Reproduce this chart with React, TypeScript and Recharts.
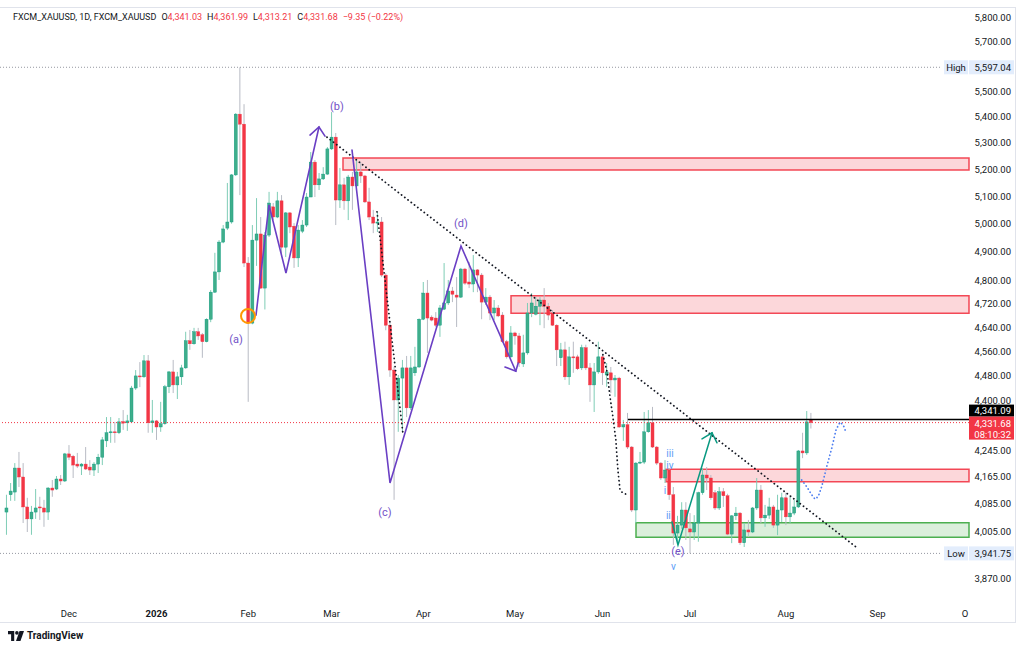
import React from 'react';
import {
  ComposedChart,
  Bar,
  Line,
  XAxis,
  YAxis,
  ReferenceArea,
  ReferenceLine,
  ReferenceDot,
} from 'recharts';

// daily candles, [open, high, low, close]
const novCandles = [
  [4061, 4112, 3995, 4073], [4112, 4147, 4094, 4123], [4120, 4207, 4094, 4192],
  [4192, 4241, 4135, 4165], [4165, 4207, 4029, 4076], [4076, 4103, 4003, 4041],
  [4041, 4079, 3995, 4061], [4061, 4129, 4041, 4073], [4076, 4106, 4038, 4073],
  [4073, 4097, 4018, 4061], [4061, 4135, 4038, 4132], [4132, 4156, 4106, 4126],
  [4129, 4168, 4126, 4159], [4159, 4171, 4141, 4153], [4153, 4238, 4150, 4235],
];
const decCandles = [
  [4235, 4262, 4216, 4225], [4228, 4232, 4162, 4201], [4204, 4238, 4192, 4198],
  [4198, 4207, 4171, 4204], [4204, 4256, 4186, 4189], [4195, 4216, 4171, 4186],
  [4186, 4210, 4168, 4204], [4204, 4235, 4177, 4225], [4225, 4287, 4201, 4278],
  [4275, 4349, 4256, 4300], [4300, 4349, 4269, 4303], [4303, 4334, 4269, 4300],
  [4300, 4346, 4296, 4334], [4335, 4371, 4309, 4330], [4331, 4356, 4306, 4337],
  [4334, 4448, 4331, 4441], [4441, 4499, 4435, 4480], [4480, 4525, 4444, 4477],
  [4477, 4548, 4474, 4529], [4529, 4548, 4300, 4331], [4331, 4403, 4300, 4337],
  [4337, 4340, 4278, 4318],
];
const janCandles = [
  [4318, 4397, 4303, 4328], [4328, 4451, 4325, 4445], [4445, 4496, 4425, 4493],
  [4493, 4532, 4425, 4451], [4451, 4493, 4406, 4477], [4477, 4516, 4451, 4506],
  [4506, 4625, 4503, 4595], [4595, 4631, 4565, 4585], [4585, 4638, 4582, 4625],
  [4625, 4638, 4598, 4611], [4615, 4621, 4539, 4592], [4592, 4670, 4590, 4667],
  [4667, 4766, 4657, 4759], [4759, 4896, 4756, 4829], [4829, 4941, 4801, 4934],
  [4934, 4995, 4930, 4981], [4984, 5149, 4977, 5006], [5006, 5182, 5000, 5179],
  [5179, 5415, 5175, 5411], [5411, 5597.04, 5104, 5372], [5372, 5450, 4846, 4860],
];
const febCandles = [
  [4860, 4881, 4397, 4654], [4654, 4995, 4650, 4941], [4941, 5093, 4850, 4963],
  [4963, 5024, 4770, 4773], [4773, 4970, 4700, 4959], [4959, 5116, 4952, 5075],
  [5061, 5075, 5013, 5024], [5024, 5116, 5020, 5083], [5083, 5104, 4881, 4916],
  [4916, 5042, 4881, 5039], [5039, 5042, 4966, 4988], [4991, 5002, 4843, 4878],
  [4878, 4995, 4846, 4977], [4973, 5013, 4966, 4995], [4995, 5112, 4988, 5097],
  [5097, 5265, 5097, 5227], [5227, 5235, 5097, 5142], [5142, 5186, 5123, 5164],
  [5164, 5208, 5160, 5182], [5182, 5284, 5179, 5277],
];
const marCandles = [
  [5277, 5419, 5273, 5322], [5322, 5338, 4995, 5086], [5086, 5205, 5057, 5142],
  [5142, 5168, 5050, 5083], [5083, 5179, 5013, 5171], [5171, 5190, 5050, 5138],
  [5138, 5235, 5134, 5190], [5190, 5227, 5149, 5175], [5175, 5179, 5075, 5079],
  [5079, 5131, 5013, 5024], [5024, 5050, 4966, 5002], [5002, 5042, 4970, 5006],
  [5006, 5024, 4811, 4818], [4818, 4825, 4630, 4647], [4647, 4654, 4477, 4499],
  [4499, 4510, 4097, 4403], [4403, 4483, 4303, 4473], [4473, 4532, 4303, 4506],
  [4506, 4545, 4349, 4378], [4378, 4545, 4371, 4506], [4490, 4575, 4480, 4509],
  [4509, 4670, 4506, 4667],
];
const aprCandles = [
  [4667, 4794, 4664, 4756], [4756, 4801, 4555, 4671], [4674, 4680, 4660, 4664],
  [4671, 4691, 4641, 4647], [4647, 4715, 4608, 4705], [4701, 4860, 4698, 4722],
  [4722, 4801, 4715, 4763], [4763, 4777, 4725, 4752], [4749, 4811, 4641, 4742],
  [4742, 4843, 4739, 4839], [4839, 4843, 4784, 4790], [4794, 4864, 4773, 4787],
  [4787, 4888, 4759, 4836], [4836, 4839, 4759, 4818], [4818, 4825, 4667, 4725],
  [4725, 4773, 4715, 4742], [4742, 4749, 4664, 4688], [4688, 4732, 4664, 4705],
  [4705, 4715, 4674, 4678], [4681, 4691, 4588, 4592], [4592, 4598, 4536, 4542],
  [4542, 4644, 4539, 4621],
];
const mayCandles = [
  [4621, 4625, 4582, 4611], [4611, 4621, 4509, 4522], [4519, 4615, 4509, 4555],
  [4555, 4722, 4549, 4688], [4688, 4756, 4674, 4722], [4684, 4742, 4680, 4711],
  [4711, 4742, 4647, 4732], [4732, 4773, 4637, 4711], [4711, 4722, 4664, 4681],
  [4688, 4698, 4644, 4647], [4647, 4650, 4512, 4565], [4539, 4588, 4512, 4565],
  [4565, 4592, 4467, 4477], [4477, 4575, 4451, 4542], [4542, 4592, 4490, 4539],
  [4542, 4549, 4499, 4503], [4506, 4582, 4499, 4572], [4572, 4582, 4499, 4506],
  [4506, 4522, 4397, 4451], [4451, 4522, 4365, 4493], [4493, 4592, 4487, 4542],
];
const junCandles = [
  [4542, 4549, 4451, 4490], [4483, 4522, 4445, 4493], [4490, 4509, 4425, 4467],
  [4467, 4483, 4413, 4473], [4473, 4477, 4315, 4318], [4318, 4340, 4275, 4325],
  [4325, 4362, 4250, 4256], [4256, 4259, 4061, 4067], [4067, 4210, 4029, 4207],
  [4207, 4241, 4204, 4210], [4210, 4365, 4204, 4303], [4303, 4371, 4300, 4331],
  [4331, 4381, 4253, 4256], [4256, 4259, 4201, 4207], [4207, 4210, 4156, 4162],
  [4162, 4216, 4147, 4186], [4186, 4192, 4097, 4112], [4112, 4135, 3966, 4000],
  [4000, 4050, 3975, 4023], [4023, 4090, 4012, 4067], [4067, 4090, 3980, 4015],
  [4012, 4058, 3941.75, 4003],
];
const julCandles = [
  [4003, 4052, 3980, 4029], [4029, 4121, 3975, 4118], [4118, 4192, 4112, 4171],
  [4171, 4195, 4126, 4162], [4162, 4171, 4097, 4103], [4118, 4126, 4067, 4073],
  [4073, 4135, 4067, 4121], [4121, 4132, 4076, 4109], [4109, 4115, 3994, 3997],
  [3997, 4052, 3971, 4050], [4050, 4076, 4038, 4058], [4058, 4061, 3966, 3972],
  [3972, 4029, 3960, 4009], [4009, 4038, 3989, 4003], [4003, 4076, 4000, 4073],
  [4073, 4162, 4067, 4126], [4126, 4141, 4029, 4044], [4044, 4082, 4018, 4052],
  [4052, 4103, 4041, 4076], [4076, 4082, 4015, 4023], [4023, 4112, 3994, 4067],
  [4067, 4118, 4032, 4103], [4103, 4118, 4023, 4047],
];
const augCandles = [
  [4047, 4106, 4029, 4058], [4058, 4097, 4052, 4076], [4076, 4247, 4073, 4244],
  [4244, 4300, 4222, 4238], [4238, 4368, 4232, 4334], [4341.03, 4361.99, 4313.21, 4331.68],
];

const FIRST_BAR = -15;
const candles = [
  ...novCandles, ...decCandles, ...janCandles, ...febCandles, ...marCandles,
  ...aprCandles, ...mayCandles, ...junCandles, ...julCandles, ...augCandles,
].map(([o, h, l, c], k) => ({ i: FIRST_BAR + k, o, h, l, c, range: [l, h] }));

// axes
const monthTicks = [0, 21, 43, 63, 85, 107, 128, 149, 172, 194, 215];
const monthLabels = ['Dec', '2026', 'Feb', 'Mar', 'Apr', 'May', 'Jun', 'Jul', 'Aug', 'Sep', 'O'];
const priceTicks = [5800, 5700, 5500, 5400, 5300, 5200, 5100, 5000, 4900, 4800, 4720, 4640, 4560, 4480, 4400, 4245, 4165, 4085, 4005, 3870];
const X_DOMAIN = [-16.55, 215.93];
const Y_DOMAIN = [3819.7, 5841.5];

const HIGH = 5597.04;
const LOW = 3941.75;
const LAST = 4331.68;
const LEVEL = 4341.09;

// drawings (bar index, price)
const waveToB = [{ i: 44.87, p: 4681 }, { i: 47.98, p: 5068 }, { i: 52.06, p: 4825 }, { i: 59.98, p: 5361 }];
const arrowB = [{ i: 57.82, p: 5330 }, { i: 59.98, p: 5361 }, { i: 61.42, p: 5326 }];
const waveToD = [{ i: 67.9, p: 5273 }, { i: 77.02, p: 4147 }, { i: 94.05, p: 4920 }, { i: 107.2, p: 4495 }];
const arrowD = [{ i: 104.6, p: 4509 }, { i: 107.2, p: 4495 }, { i: 107.77, p: 4522 }];
const trendLong = [{ i: 61.9, p: 5322 }, { i: 189.06, p: 3958 }];
const trendShort = [{ i: 73.9, p: 5043 }, { i: 80.13, p: 4297 }];
const trendCurve = [
  { i: 128.1, p: 4549 }, { i: 129.1, p: 4493 }, { i: 129.8, p: 4413 }, { i: 130.5, p: 4349 },
  { i: 131.2, p: 4278 }, { i: 131.7, p: 4186 }, { i: 132.2, p: 4126 }, { i: 132.9, p: 4117 },
  { i: 134.1, p: 4112 },
];
const impulse = [{ i: 144.67, p: 4032 }, { i: 146.11, p: 3966 }, { i: 154.27, p: 4300 }];
const impulseArrow = [{ i: 151.87, p: 4281 }, { i: 154.27, p: 4300 }, { i: 155.47, p: 4269 }];
const projection = [
  { i: 175.79, p: 4156 }, { i: 176.99, p: 4136 }, { i: 178.19, p: 4112 }, { i: 178.98, p: 4099 },
  { i: 179.77, p: 4107 }, { i: 180.59, p: 4136 }, { i: 181.79, p: 4196 }, { i: 182.99, p: 4252 },
  { i: 184.02, p: 4309 }, { i: 184.98, p: 4333 }, { i: 185.77, p: 4324 }, { i: 186.35, p: 4304 },
];

const supplyZones = [
  { from: 65.74, top: 5242.6, bottom: 5197 },
  { from: 106.05, top: 4747, bottom: 4687 },
  { from: 143.23, top: 4188, bottom: 4151 },
];
const demandZone = { from: 136.04, top: 4030, bottom: 3988 };

const waveLabels = [
  { i: 40.07, p: 4601, t: '(a)' },
  { i: 64.3, p: 5444, t: '(b)' },
  { i: 75.82, p: 4061, t: '(c)' },
  { i: 94.05, p: 5002, t: '(d)' },
  { i: 146.1, p: 3949, t: '(e)' },
];
const subLabels = [
  { i: 144.19, p: 4237, t: 'iii' },
  { i: 144.19, p: 4201, t: 'iv' },
  { i: 143.0, p: 4126, t: 'i' },
  { i: 143.79, p: 4052, t: 'ii' },
  { i: 145.0, p: 3904, t: 'v' },
];

const UP = '#089981';
const DOWN = '#f23645';
const UP_WICK = '#7fcdb6';
const DOWN_WICK = '#b8bbc4';
const WAVE = '#6a3fc4';
const TEXT = '#131722';

const fmt = (v: number) => v.toLocaleString('en-US', { minimumFractionDigits: 2, maximumFractionDigits: 2 });

function Candle(props: any) {
  const { x, y, width, height, payload } = props;
  if (!payload) return null;
  const { o, h, l, c } = payload;
  const top = Math.min(y, y + height);
  const span = Math.abs(height);
  const lh = Math.log(h);
  const ll = Math.log(l);
  const at = (v: number) => top + (span * (lh - Math.log(v))) / (lh - ll);
  const cx = x + width / 2;
  const up = c >= o;
  const bTop = at(Math.max(o, c));
  const bBot = at(Math.min(o, c));
  return (
    <g>
      <line x1={cx} x2={cx} y1={top} y2={top + span} stroke={up ? UP_WICK : DOWN_WICK} strokeWidth={1} />
      <rect x={cx - 1.5} y={bTop} width={3} height={Math.max(bBot - bTop, 1)} fill={up ? '#3fae8a' : DOWN} stroke={up ? UP : DOWN} strokeWidth={0.4} />
    </g>
  );
}

function XTick({ x, payload }: any) {
  const k = monthTicks.indexOf(payload.value);
  const label = monthLabels[k];
  return (
    <text x={x} y={617} textAnchor="middle" fontSize={9.5} fill={TEXT} fontWeight={label === '2026' ? 700 : 400}>
      {label}
    </text>
  );
}

function YTick({ y, payload }: any) {
  return (
    <text x={1011} y={y} dy={3.4} textAnchor="end" fontSize={9.5} fill={TEXT}>
      {fmt(payload.value)}
    </text>
  );
}

const extremeTag = (name: string, value: number) => (p: any) => (
  <g>
    <rect x={p.cx - 25} y={p.cy - 7} width={24} height={14} fill="#e3edfc" />
    <text x={p.cx - 13} y={p.cy} dy={3.4} textAnchor="middle" fontSize={9.5} fill={TEXT}>{name}</text>
    <rect x={p.cx} y={p.cy - 7} width={45} height={14} fill="#e3edfc" />
    <text x={p.cx + 42} y={p.cy} dy={3.4} textAnchor="end" fontSize={9.5} fill={TEXT}>{fmt(value)}</text>
  </g>
);

const levelTag = (p: any) => (
  <g>
    <rect x={p.cx} y={p.cy - 15} width={45} height={12} fill="#000" />
    <text x={p.cx + 42} y={p.cy - 9} dy={3.4} textAnchor="end" fontSize={9.5} fill="#fff">{fmt(LEVEL)}</text>
  </g>
);

const lastTag = (p: any) => (
  <g>
    <rect x={p.cx} y={p.cy - 6} width={45} height={23} fill={DOWN} />
    <text x={p.cx + 42} y={p.cy + 1} dy={3.4} textAnchor="end" fontSize={9.5} fill="#fff">{fmt(LAST)}</text>
    <text x={p.cx + 42} y={p.cy + 11.5} dy={3.4} textAnchor="end" fontSize={9.5} fill="#fff">08:10:32</text>
  </g>
);

const textMark = (t: string, color: string, size: number) => (p: any) => (
  <text x={p.cx} y={p.cy} dy={size * 0.36} textAnchor="middle" fontSize={size} fill={color}>{t}</text>
);

const path = (data: any[], stroke: string, width: number, dash?: string) => (
  <Line
    data={data}
    dataKey="p"
    type="linear"
    stroke={stroke}
    strokeWidth={width}
    strokeDasharray={dash}
    strokeLinecap="round"
    dot={false}
    activeDot={false}
    isAnimationActive={false}
  />
);

export default function App() {
  return (
    <div
      style={{
        position: 'absolute',
        left: 0,
        top: 0,
        width: 1024,
        height: 650,
        background: '#fff',
        fontFamily: 'Roboto, "Noto Sans", sans-serif',
        overflow: 'hidden',
      }}
    >
      <div
        style={{
          position: 'absolute',
          left: 0,
          top: 7,
          width: 1016,
          height: 616,
          borderTop: '1px solid #e0e3eb',
          borderRight: '1px solid #e0e3eb',
          borderBottom: '1px solid #e0e3eb',
          boxSizing: 'border-box',
        }}
      />
      <ComposedChart width={1024} height={650} data={candles} margin={{ top: 8, right: 0, bottom: 27, left: 0 }}>
        <XAxis
          dataKey="i"
          type="number"
          domain={X_DOMAIN}
          ticks={monthTicks}
          allowDataOverflow
          axisLine={false}
          tickLine={false}
          height={26}
          tick={<XTick />}
          interval={0}
        />
        <YAxis
          orientation="right"
          scale="log"
          domain={Y_DOMAIN}
          ticks={priceTicks}
          allowDataOverflow
          axisLine={false}
          tickLine={false}
          width={55}
          tick={<YTick />}
          interval={0}
        />

        <ReferenceLine
          segment={[{ x: X_DOMAIN[0], y: HIGH }, { x: 209, y: HIGH }]}
          stroke="#9598a1"
          strokeDasharray="1 2"
          ifOverflow="visible"
        />
        <ReferenceLine
          segment={[{ x: X_DOMAIN[0], y: LOW }, { x: 209, y: LOW }]}
          stroke="#9598a1"
          strokeDasharray="1 2"
          ifOverflow="visible"
        />
        <ReferenceLine y={LAST} stroke={DOWN} strokeDasharray="1 2" />

        {supplyZones.map((z, k) => (
          <ReferenceArea
            key={k}
            x1={z.from}
            x2={X_DOMAIN[1]}
            y1={z.bottom}
            y2={z.top}
            fill={DOWN}
            fillOpacity={0.2}
            stroke={DOWN}
            strokeOpacity={0.9}
            strokeWidth={1.5}
            ifOverflow="visible"
          />
        ))}
        <ReferenceArea
          x1={demandZone.from}
          x2={X_DOMAIN[1]}
          y1={demandZone.bottom}
          y2={demandZone.top}
          fill="#4caf50"
          fillOpacity={0.2}
          stroke="#4caf50"
          strokeWidth={1.5}
          ifOverflow="visible"
        />

        <Bar dataKey="range" barSize={3} shape={<Candle />} isAnimationActive={false} />

        <ReferenceLine
          segment={[{ x: 134.1, y: LEVEL }, { x: X_DOMAIN[1], y: LEVEL }]}
          stroke="#000"
          strokeWidth={1.5}
          ifOverflow="visible"
        />

        {path(trendLong, TEXT, 1.8, '0.1 4')}
        {path(trendShort, TEXT, 1.8, '0.1 4')}
        {path(trendCurve, TEXT, 1.8, '0.1 4')}
        {path(waveToB, WAVE, 1.6)}
        {path(arrowB, WAVE, 1.6)}
        {path(waveToD, WAVE, 1.6)}
        {path(arrowD, WAVE, 1.6)}
        {path(impulse, UP, 1.5)}
        {path(impulseArrow, UP, 1.5)}
        {path(projection, '#4f7ff0', 1.8, '0.1 3.6')}

        <ReferenceDot x={42.95} y={4678} r={7} fill="none" stroke="#ff9800" strokeWidth={2} ifOverflow="visible" />

        {waveLabels.map((w) => (
          <ReferenceDot key={w.t} x={w.i} y={w.p} r={0} ifOverflow="visible" shape={textMark(w.t, '#7352c7', 11)} />
        ))}
        {subLabels.map((w, k) => (
          <ReferenceDot key={'s' + k} x={w.i} y={w.p} r={0} ifOverflow="visible" shape={textMark(w.t, '#5b9cf6', 10)} />
        ))}

        <ReferenceDot x={X_DOMAIN[1]} y={HIGH} r={0} ifOverflow="visible" shape={extremeTag('High', HIGH)} />
        <ReferenceDot x={X_DOMAIN[1]} y={LOW} r={0} ifOverflow="visible" shape={extremeTag('Low', LOW)} />
        <ReferenceDot x={X_DOMAIN[1]} y={LEVEL} r={0} ifOverflow="visible" shape={levelTag} />
        <ReferenceDot x={X_DOMAIN[1]} y={LAST} r={0} ifOverflow="visible" shape={lastTag} />
      </ComposedChart>

      <div
        style={{
          position: 'absolute',
          left: 13,
          top: 12,
          fontSize: 9,
          color: TEXT,
          whiteSpace: 'nowrap',
          display: 'flex',
          gap: 5,
        }}
      >
        <span>FXCM_XAUUSD, 1D, FXCM_XAUUSD</span>
        <span>O<span style={{ color: DOWN }}>4,341.03</span></span>
        <span>H<span style={{ color: DOWN }}>4,361.99</span></span>
        <span>L<span style={{ color: DOWN }}>4,313.21</span></span>
        <span>C<span style={{ color: DOWN }}>4,331.68</span></span>
        <span style={{ color: DOWN }}>−9.35 (−0.22%)</span>
      </div>

      <div
        style={{
          position: 'absolute',
          left: 8,
          top: 630,
          display: 'flex',
          alignItems: 'center',
          gap: 3,
          fontSize: 10,
          fontWeight: 700,
          color: TEXT,
        }}
      >
        <svg width={16} height={10} viewBox="0 0 36 22">
          <path d="M0 0h14v22H7V7H0z" fill={TEXT} />
          <circle cx={20} cy={4} r={4} fill={TEXT} />
          <path d="M26 0h10l-8 22H18z" fill={TEXT} />
        </svg>
        <span>TradingView</span>
      </div>
    </div>
  );
}
